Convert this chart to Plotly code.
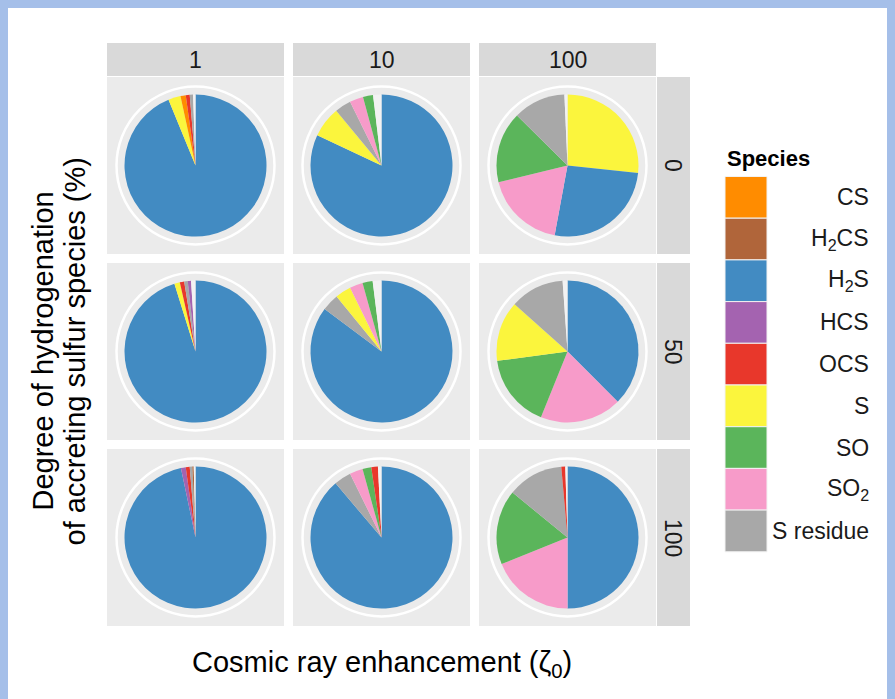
import plotly.graph_objects as go

W, H = 895, 699
OFF = 8  # page body margin

species = ["CS", "H<sub>2</sub>CS", "H<sub>2</sub>S", "HCS", "OCS", "S", "SO", "SO<sub>2</sub>", "S residue"]
keys = ["CS", "H2CS", "H2S", "HCS", "OCS", "S", "SO", "SO2", "Sres"]
colors = ["#FF8C00", "#B0653A", "#428BC2", "#A463B0", "#E8372B", "#FBF53D", "#5BB55B", "#F79BC9", "#A8A8A8"]
gap_color = "#F2F2F2"

cr_levels = ["1", "10", "100"]          # columns (cosmic ray enhancement)
hyd_levels = ["0", "50", "100"]         # rows (degree of hydrogenation)

# clockwise order of slices from 12 o'clock, and their percentages ("gap" = unaccounted)
order_0_1 = ["H2S", "S", "CS", "OCS", "Sres", "gap"]
val_0_1 = [93.8, 2.8, 1.2, 0.9, 0.75, 0.55]
order_0_10 = ["H2S", "S", "Sres", "SO2", "SO", "gap"]
val_0_10 = [82.0, 7.0, 3.7, 3.1, 2.3, 1.9]
order_0_100 = ["S", "H2S", "SO2", "SO", "Sres", "gap"]
val_0_100 = [26.7, 26.2, 18.3, 16.2, 11.9, 0.7]

order_50_1 = ["H2S", "S", "OCS", "Sres", "HCS", "gap"]
val_50_1 = [95.2, 1.25, 1.0, 0.8, 0.75, 1.0]
order_50_10 = ["H2S", "Sres", "S", "SO2", "SO", "gap"]
val_50_10 = [85.2, 3.9, 3.6, 3.0, 2.3, 2.0]
order_50_100 = ["H2S", "SO2", "SO", "S", "Sres", "gap"]
val_50_100 = [37.5, 18.6, 16.8, 13.7, 12.3, 1.1]

order_100_1 = ["H2S", "HCS", "OCS", "Sres", "H2CS", "gap"]
val_100_1 = [96.7, 1.1, 0.9, 0.6, 0.3, 0.4]
order_100_10 = ["H2S", "Sres", "SO2", "SO", "OCS", "gap"]
val_100_10 = [88.8, 3.9, 3.0, 2.0, 1.5, 0.8]
order_100_100 = ["H2S", "SO2", "SO", "Sres", "OCS", "gap"]
val_100_100 = [50.0, 18.9, 17.0, 12.7, 0.9, 0.5]

panels = {
    ("0", "1"): (order_0_1, val_0_1), ("0", "10"): (order_0_10, val_0_10), ("0", "100"): (order_0_100, val_0_100),
    ("50", "1"): (order_50_1, val_50_1), ("50", "10"): (order_50_10, val_50_10), ("50", "100"): (order_50_100, val_50_100),
    ("100", "1"): (order_100_1, val_100_1), ("100", "10"): (order_100_10, val_100_10), ("100", "100"): (order_100_100, val_100_100),
}

color_of = dict(zip(keys, colors))
color_of["gap"] = gap_color

FONT = "Liberation Sans, Arial, sans-serif"

# screen pixel -> paper coordinates (figure sits at the page's 8px body margin)
def px(x):
    return (x - OFF) / W

def py(y):
    return 1 - (y - OFF) / H

fig = go.Figure()
shapes = []
annots = []

def label(x, y, text, size, xanchor="center", angle=0, color="#1A1A1A"):
    annots.append(dict(x=px(x), y=py(y), xref="paper", yref="paper", text=text,
                       xanchor=xanchor, yanchor="middle", textangle=angle, showarrow=False,
                       font=dict(size=size, color=color, family=FONT)))

# panel geometry (screen pixels)
col_x0 = [107, 293, 479]
row_y0 = [77, 263, 449]
PS = 177
R_PIE = 71
R_RING = 79

for ci, c in enumerate(cr_levels):
    x0 = col_x0[ci]
    shapes.append(dict(type="rect", xref="paper", yref="paper", x0=px(x0), x1=px(x0 + PS),
                       y0=py(76), y1=py(43), fillcolor="#D9D9D9", line_width=0, layer="below"))
    label(x0 + PS / 2, 60, c, 23)

for ri, r in enumerate(hyd_levels):
    y0 = row_y0[ri]
    shapes.append(dict(type="rect", xref="paper", yref="paper", x0=px(657), x1=px(690),
                       y0=py(y0 + PS), y1=py(y0), fillcolor="#D9D9D9", line_width=0, layer="below"))
    label(673.5, y0 + PS / 2, r, 23, angle=90)

for ri, r in enumerate(hyd_levels):
    for ci, c in enumerate(cr_levels):
        x0, y0 = col_x0[ci], row_y0[ri]
        cx, cy = x0 + PS / 2, y0 + PS / 2
        shapes.append(dict(type="rect", xref="paper", yref="paper", x0=px(x0), x1=px(x0 + PS),
                           y0=py(y0 + PS), y1=py(y0), fillcolor="#EBEBEB", line_width=0, layer="below"))
        shapes.append(dict(type="circle", xref="paper", yref="paper", x0=px(cx - R_RING), x1=px(cx + R_RING),
                           y0=py(cy + R_RING), y1=py(cy - R_RING), line=dict(color="white", width=2.5),
                           fillcolor="rgba(0,0,0,0)", layer="below"))
        order, vals = panels[(r, c)]
        fig.add_trace(go.Pie(
            labels=order, values=vals, sort=False, direction="clockwise", rotation=0,
            marker=dict(colors=[color_of[k] for k in order], line=dict(width=0)),
            textinfo="none", hoverinfo="label+percent", showlegend=False,
            domain=dict(x=[px(cx - R_PIE), px(cx + R_PIE)], y=[py(cy + R_PIE), py(cy - R_PIE)]),
        ))

# legend (manual, ggplot style)
label(725, 159, "<b>Species</b>", 22, xanchor="left", color="#000000")
KEY_TOP = 176.5
KEY_H = 41.7
for i, (lab, col) in enumerate(zip(species, colors)):
    t = KEY_TOP + i * KEY_H
    shapes.append(dict(type="rect", xref="paper", yref="paper", x0=px(725), x1=px(767),
                       y0=py(t + KEY_H), y1=py(t), fillcolor=col, line=dict(color="#F2F2F2", width=1)))
    label(871, t + KEY_H / 2, lab, 23, xanchor="right")

# axis titles
label(381.5, 664, "Cosmic ray enhancement (\u03b6<sub>0</sub>)", 29, color="#000000")
label(42, 351.5, "Degree of hydrogenation", 29, angle=-90, color="#000000")
label(74, 351.5, "of accreting sulfur species (%)", 29, angle=-90, color="#000000")

fig.update_layout(
    width=W, height=H, margin=dict(l=0, r=0, t=0, b=0),
    paper_bgcolor="white", plot_bgcolor="white",
    shapes=shapes, annotations=annots, showlegend=False,
)

fig.write_html("out.html", post_script="document.body.style.background='#A5BFE9';")
